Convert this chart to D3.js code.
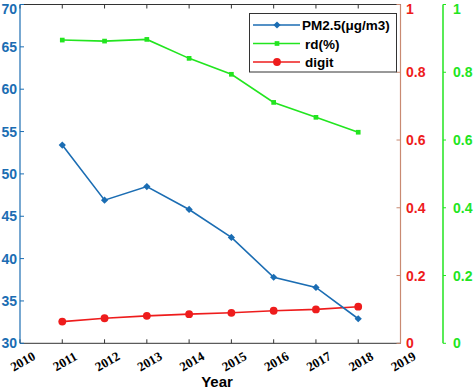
<!DOCTYPE html>
<html><head><meta charset="utf-8">
<script src="https://cdn.jsdelivr.net/npm/d3@7"></script>
<style>body{margin:0;background:#fff;}svg{display:block;}</style>
</head><body>
<svg id="c" width="474" height="390"></svg>
<script>
const years = [2011, 2012, 2013, 2014, 2015, 2016, 2017, 2018];
const xTicks = [2010, 2011, 2012, 2013, 2014, 2015, 2016, 2017, 2018, 2019];
const pm25 = [53.4, 46.9, 48.5, 45.8, 42.5, 37.8, 36.6, 32.9];
const rd = [0.895, 0.892, 0.897, 0.841, 0.794, 0.711, 0.667, 0.623];
const digit = [0.064, 0.074, 0.081, 0.086, 0.090, 0.096, 0.100, 0.108];
const leftTicks = [30, 35, 40, 45, 50, 55, 60, 65, 70];
const rightTicks = [0, 0.2, 0.4, 0.6, 0.8, 1];
const legendLabels = ["PM2.5(\u03bcg/m3)", "rd(%)", "digit"];

const BLUE = "#1b6db3", GREEN = "#22e51f", RED = "#ee1c1c", AXR = "#c98a72";
const L = 20, R = 400.5, T = 4.5, B = 343.3, G = 443;
const svg = d3.select("#c");
const x = d3.scaleLinear().domain([2010, 2019]).range([L, R]);
const yL = d3.scaleLinear().domain([30, 70]).range([B, T]);
const yR = d3.scaleLinear().domain([0, 1]).range([B, T]);
const lblY = v => Math.max(v + 5, 13.5);

// frame top
svg.append("line").attr("x1", L).attr("x2", R).attr("y1", T).attr("y2", T).attr("stroke", "#333").attr("stroke-width", 1);
svg.selectAll(".tt").data(xTicks).join("line").attr("x1", d => x(d)).attr("x2", d => x(d)).attr("y1", T).attr("y2", T + 4).attr("stroke", "#333");
// bottom axis
svg.append("line").attr("x1", L).attr("x2", R).attr("y1", B).attr("y2", B).attr("stroke", "#333").attr("stroke-width", 1);
svg.selectAll(".bt").data(xTicks).join("line").attr("x1", d => x(d)).attr("x2", d => x(d)).attr("y1", B).attr("y2", B - 4).attr("stroke", "#333");
svg.selectAll(".xl").data(xTicks).join("text")
  .attr("transform", d => `translate(${x(d) + 5},${B + 22}) rotate(-30)`)
  .attr("text-anchor", "middle").attr("font-family", "Liberation Serif, Times New Roman, serif")
  .attr("font-weight", "bold").attr("font-size", 13).attr("fill", "#000").text(d => d);
svg.append("text").attr("x", 217).attr("y", 387).attr("text-anchor", "middle")
  .attr("font-family", "Liberation Sans, Arial, sans-serif").attr("font-weight", "bold").attr("font-size", 15).text("Year");

// left axis
svg.append("line").attr("x1", L).attr("x2", L).attr("y1", T).attr("y2", B).attr("stroke", BLUE).attr("stroke-width", 1.2);
svg.selectAll(".lt").data(leftTicks).join("line").attr("x1", L).attr("x2", L + 4).attr("y1", d => yL(d)).attr("y2", d => yL(d)).attr("stroke", BLUE);
svg.selectAll(".ll").data(leftTicks).join("text").attr("x", 17).attr("y", d => lblY(yL(d)))
  .attr("text-anchor", "end").attr("font-family", "Liberation Sans, Arial, sans-serif").attr("font-weight", "bold")
  .attr("font-size", 14).attr("fill", BLUE).text(d => d);

// right red axis
svg.append("line").attr("x1", R).attr("x2", R).attr("y1", T).attr("y2", B).attr("stroke", AXR).attr("stroke-width", 1.2);
svg.selectAll(".rt").data(rightTicks).join("line").attr("x1", R).attr("x2", R - 4).attr("y1", d => yR(d)).attr("y2", d => yR(d)).attr("stroke", AXR);
svg.selectAll(".rl").data(rightTicks).join("text").attr("x", 406).attr("y", d => lblY(yR(d)))
  .attr("font-family", "Liberation Sans, Arial, sans-serif").attr("font-weight", "bold")
  .attr("font-size", 14).attr("fill", RED).text(d => d);

// green axis
svg.append("line").attr("x1", G).attr("x2", G).attr("y1", T).attr("y2", B).attr("stroke", GREEN).attr("stroke-width", 1.5);
svg.selectAll(".gt").data(rightTicks).join("line").attr("x1", G).attr("x2", G + 3).attr("y1", d => yR(d)).attr("y2", d => yR(d)).attr("stroke", GREEN);
svg.selectAll(".gl").data(rightTicks).join("text").attr("x", 453).attr("y", d => lblY(yR(d)))
  .attr("font-family", "Liberation Sans, Arial, sans-serif").attr("font-weight", "bold")
  .attr("font-size", 14).attr("fill", GREEN).text(d => d);

// series
function series(vals, yS, color, shape) {
  const pts = years.map((yr, i) => [x(yr), yS(vals[i])]);
  svg.append("path").attr("d", d3.line()(pts)).attr("fill", "none").attr("stroke", color).attr("stroke-width", 1.6);
  const sym = d3.symbol().type(shape.type).size(shape.size);
  svg.append("g").selectAll("path").data(pts).join("path")
    .attr("transform", d => `translate(${d[0]},${d[1]})` + (shape.rot ? " rotate(45)" : ""))
    .attr("d", sym).attr("fill", color);
}
series(rd, yR, GREEN, {type: d3.symbolSquare, size: 22});
series(digit, yR, RED, {type: d3.symbolCircle, size: 48});
series(pm25, yL, BLUE, {type: d3.symbolSquare, size: 26, rot: true});

// legend
const lg = svg.append("g");
lg.append("rect").attr("x", 249.5).attr("y", 13.5).attr("width", 147).attr("height", 58.5).attr("fill", "#fff").attr("stroke", "#333").attr("stroke-width", 1);
const legColors = [BLUE, GREEN, RED];
const legShapes = [{type: d3.symbolSquare, size: 26, rot: true}, {type: d3.symbolSquare, size: 22}, {type: d3.symbolCircle, size: 48}];
const legY = [25, 43.5, 62];
legendLabels.forEach((lab, i) => {
  lg.append("line").attr("x1", 253).attr("x2", 300).attr("y1", legY[i]).attr("y2", legY[i]).attr("stroke", legColors[i]).attr("stroke-width", 1.6);
  lg.append("path").attr("transform", `translate(277,${legY[i]})` + (legShapes[i].rot ? " rotate(45)" : ""))
    .attr("d", d3.symbol().type(legShapes[i].type).size(legShapes[i].size)).attr("fill", legColors[i]);
  lg.append("text").attr("x", i === 0 ? 302 : 305).attr("y", legY[i] + 5)
    .attr("font-family", "Liberation Sans, Arial, sans-serif").attr("font-weight", "bold").attr("font-size", 13.5).attr("fill", "#000").text(lab);
});
</script>
</body></html>
